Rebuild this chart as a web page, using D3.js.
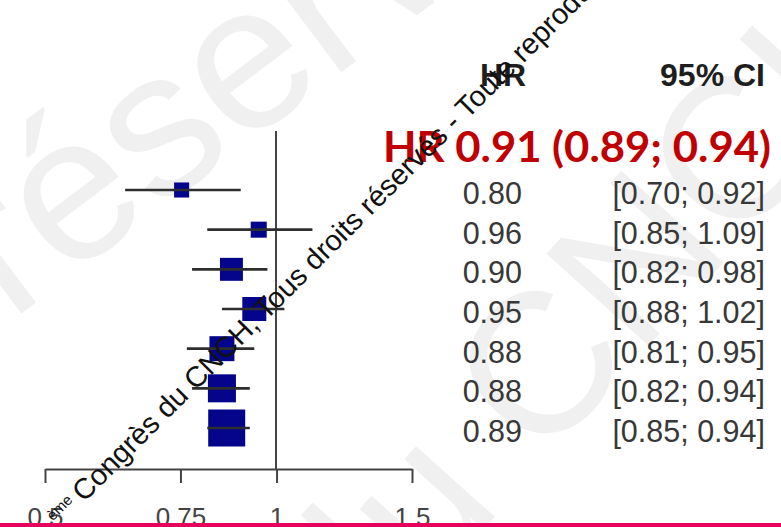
<!DOCTYPE html>
<html>
<head>
<meta charset="utf-8">
<script src="https://cdn.jsdelivr.net/npm/d3@7"></script>
<style>
  html, body { margin: 0; padding: 0; background: #fff; }
  svg { display: block; }
</style>
</head>
<body>
<svg id="chart" width="781" height="527"></svg>
<script>
// ---- data ----
const studyHR    = [0.80, 0.96, 0.90, 0.95, 0.88, 0.88, 0.89];
const studyLower = [0.70, 0.85, 0.82, 0.88, 0.81, 0.82, 0.85];
const studyUpper = [0.92, 1.09, 0.98, 1.02, 0.95, 0.94, 0.94];
const studyWeight = [5.2, 5.9, 12.1, 13.2, 14.3, 18.0, 31.4];
const summaryHR = [0.91, 0.89, 0.94];   // estimate, lower, upper
const tickValues = [0.5, 0.75, 1, 1.5];
const tickLabels = ["0.5", "0.75", "1", "1.5"];
const headers = ["HR", "95% CI"];
const watermarkSmall = "Congrès du CNCH, Tous droits réservés - Toute reproduction interdite";

// ---- layout ----
const W = 781, H = 527;
const svg = d3.select("#chart");
const fmt = d3.format(".2f");

// big light watermark (beneath)
const wm = svg.append("g").attr("fill", "#f0f0f0")
  .attr("font-family", "Liberation Sans, Arial, sans-serif");
wm.append("text").attr("transform", "translate(10,322) rotate(-37)")
  .attr("font-size", 206).text("réservés");
wm.append("text").attr("transform", "translate(355,672) rotate(-48)")
  .attr("font-size", 200).text("du CNCH");

// scales
const rows = d3.range(studyHR.length);
const y = d3.scalePoint().domain(rows).range([190, 428]);
const x = d3.scaleLog().domain([0.5, 1.5])
  .range([276 + Math.log(0.5) * 423, 276 + Math.log(1.5) * 423]);
const xAxisScale = d3.scaleLog().domain([0.5, 1.5]).range([45, 412]);
const size = d3.scaleSqrt().domain([0, d3.max(studyWeight)]).range([0, 37]);

const axisY = 469;

// reference line at HR = 1
svg.append("line")
  .attr("x1", x(1)).attr("x2", x(1))
  .attr("y1", 131).attr("y2", axisY)
  .attr("stroke", "#444").attr("stroke-width", 2);

// squares
svg.append("g").selectAll("rect").data(rows).join("rect")
  .attr("x", i => x(studyHR[i]) - size(studyWeight[i]) / 2)
  .attr("y", i => y(i) - size(studyWeight[i]) / 2)
  .attr("width", i => size(studyWeight[i]))
  .attr("height", i => size(studyWeight[i]))
  .attr("fill", "#05058c");

// CI lines
svg.append("g").selectAll("line").data(rows).join("line")
  .attr("x1", i => x(studyLower[i])).attr("x2", i => x(studyUpper[i]))
  .attr("y1", i => y(i)).attr("y2", i => y(i))
  .attr("stroke", "#2e2e2e").attr("stroke-width", 2.6);

// axis
const axis = d3.axisBottom(xAxisScale)
  .tickValues(tickValues)
  .tickFormat((d, i) => tickLabels[i])
  .tickSize(14).tickSizeOuter(0).tickPadding(25);
const gAxis = svg.append("g").attr("transform", `translate(0,${axisY})`).call(axis);
gAxis.select(".domain").attr("stroke", "#444").attr("stroke-width", 2);
gAxis.selectAll(".tick line").attr("stroke", "#444").attr("stroke-width", 2);
gAxis.selectAll(".tick text").attr("fill", "#444")
  .attr("font-size", 26).attr("font-family", "Liberation Sans, Arial, sans-serif");

// headers
svg.append("text").attr("x", 480).attr("y", 86)
  .attr("font-family", "Liberation Sans, Arial, sans-serif").attr("font-weight", "bold")
  .attr("font-size", 32).attr("fill", "#1e1e1e").text(headers[0]);
svg.append("text").attr("x", 765).attr("y", 86).attr("text-anchor", "end")
  .attr("font-family", "Liberation Sans, Arial, sans-serif").attr("font-weight", "bold")
  .attr("font-size", 32).attr("fill", "#1e1e1e").text(headers[1]);

// summary (red)
svg.append("text").attr("x", 383).attr("y", 162)
  .attr("font-family", "Lato, 'Open Sans', sans-serif").attr("font-weight", "bold")
  .attr("font-size", 42).attr("fill", "#c00000")
  .attr("textLength", 388).attr("lengthAdjust", "spacingAndGlyphs")
  .text(`HR ${fmt(summaryHR[0])} (${fmt(summaryHR[1])}; ${fmt(summaryHR[2])})`);

// row texts
const rowText = svg.append("g").attr("font-family", "Liberation Sans, Arial, sans-serif")
  .attr("font-size", 30.5).attr("fill", "#383838");
rowText.selectAll("text.hr").data(rows).join("text").attr("class", "hr")
  .attr("x", 522).attr("y", i => y(i) + 14).attr("text-anchor", "end")
  .text(i => fmt(studyHR[i]));
rowText.selectAll("text.ci").data(rows).join("text").attr("class", "ci")
  .attr("x", 765).attr("y", i => y(i) + 14).attr("text-anchor", "end")
  .text(i => `[${fmt(studyLower[i])}; ${fmt(studyUpper[i])}]`);

// small black watermark (on top)
const wm2 = svg.append("g").attr("transform", "translate(84,503) rotate(-45)")
  .attr("font-family", "Liberation Sans, Arial, sans-serif").attr("fill", "#111");
wm2.append("text").attr("x", -6).attr("y", -9).attr("text-anchor", "end")
  .attr("font-size", 15).text("ème");
wm2.append("text").attr("x", 0).attr("y", 0)
  .attr("font-size", 29).text(watermarkSmall);

// bottom pink band
svg.append("rect").attr("x", 0).attr("y", 523).attr("width", W).attr("height", H - 523)
  .attr("fill", "#e6005c");
</script>
</body>
</html>
